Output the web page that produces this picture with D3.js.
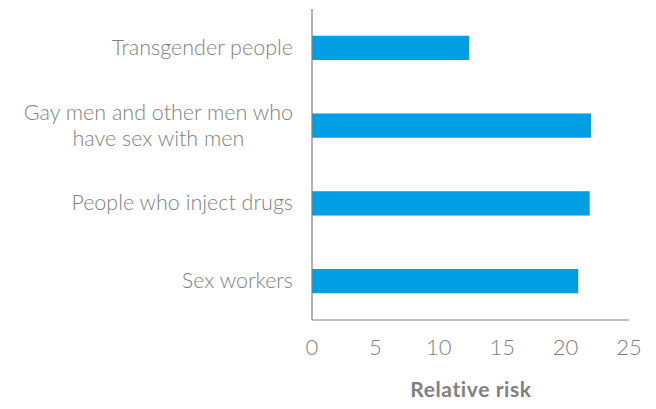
<!DOCTYPE html>
<html>
<head>
<meta charset="utf-8">
<script src="https://cdn.jsdelivr.net/npm/d3@7"></script>
<style>
  body { margin: 0; background: #fff; }
  text { font-family: Lato, "Open Sans", sans-serif; }
</style>
</head>
<body>
<div id="chart"></div>
<script>
var categories = [
  ["Transgender people"],
  ["Gay men and other men who", "have sex with men"],
  ["People who inject drugs"],
  ["Sex workers"]
];
var values = [12.4, 22.0, 21.9, 21.0];
var ticks = [0, 5, 10, 15, 20, 25];
var axisTitle = "Relative risk";

var dim = { width: 656, height: 409 };
var plot = { left: 312, right: 629, top: 9, bottom: 320 };

var svg = d3.select("#chart").append("svg")
  .attr("width", dim.width)
  .attr("height", dim.height);

var x = d3.scaleLinear().domain([0, 25]).range([plot.left, plot.right]);
var y = d3.scaleBand()
  .domain(d3.range(categories.length))
  .range([plot.top, plot.bottom])
  .paddingInner(0.6875)
  .paddingOuter(0.34375);

// bars
svg.selectAll("rect.bar")
  .data(values)
  .join("rect")
  .attr("class", "bar")
  .attr("x", x(0))
  .attr("y", (d, i) => y(i))
  .attr("width", (d) => x(d) - x(0))
  .attr("height", y.bandwidth())
  .attr("fill", "#009fe3");

// axis lines
svg.append("line")
  .attr("x1", x(0)).attr("x2", x(0))
  .attr("y1", plot.top).attr("y2", plot.bottom)
  .attr("stroke", "#808080").attr("stroke-width", 1.2);
svg.append("line")
  .attr("x1", x(0)).attr("x2", plot.right)
  .attr("y1", plot.bottom).attr("y2", plot.bottom)
  .attr("stroke", "#808080").attr("stroke-width", 1.2);

// category labels, one text per line; multi-line ones centred under the widest line
var labelRight = 293;
var lh = 26;
categories.forEach(function (d, i) {
  var cy = y(i) + y.bandwidth() / 2;
  var start = cy - (d.length - 1) * lh / 2 + 7;
  var texts = d.map(function (line, k) {
    return svg.append("text")
      .attr("class", "cat")
      .attr("y", start + k * lh)
      .attr("font-size", 21.5)
      .attr("font-weight", 300)
      .attr("fill", "#7f7f7f")
      .text(line);
  });
  if (d.length == 1) {
    texts[0].attr("text-anchor", "end").attr("x", labelRight);
  } else {
    var w = d3.max(texts, (s) => s.node().getComputedTextLength());
    texts.forEach((s) => s.attr("text-anchor", "middle").attr("x", labelRight - w / 2));
  }
});

// tick labels
svg.selectAll("text.tick")
  .data(ticks)
  .join("text")
  .attr("class", "tick")
  .attr("x", (d) => x(d))
  .attr("y", 355)
  .attr("text-anchor", "middle")
  .attr("font-size", 22)
  .attr("font-weight", 300)
  .attr("fill", "#7f7f7f")
  .text((d) => d);

svg.append("text")
  .attr("x", 471)
  .attr("y", 397)
  .attr("text-anchor", "middle")
  .attr("font-size", 21)
  .attr("font-weight", "bold")
  .attr("letter-spacing", 0.6)
  .attr("fill", "#7f7f7f")
  .text(axisTitle);
</script>
</body>
</html>
